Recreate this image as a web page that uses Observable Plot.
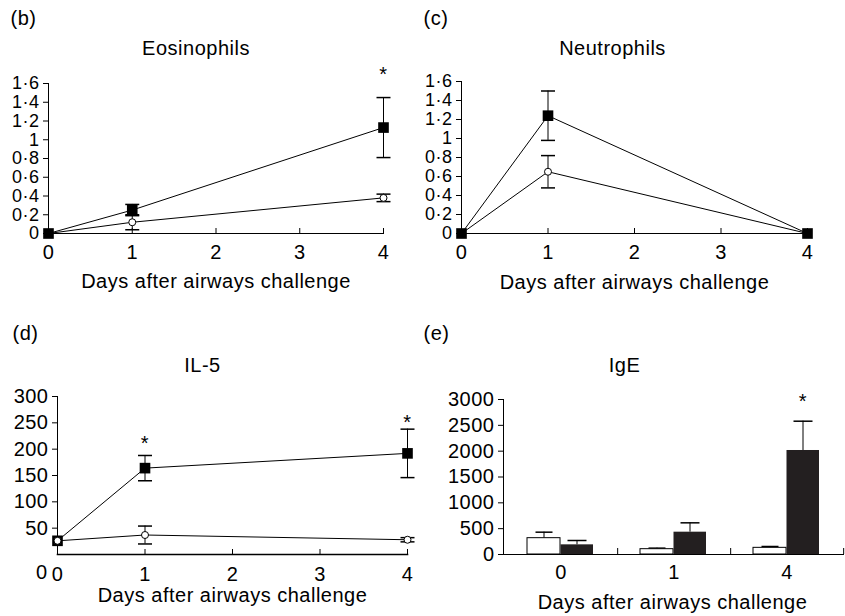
<!DOCTYPE html>
<html><head><meta charset="utf-8">
<script src="https://cdn.jsdelivr.net/npm/d3@7"></script>
<script src="https://cdn.jsdelivr.net/npm/@observablehq/plot@0.6"></script>
<style>
body{margin:0;background:#fff;}
#wrap{position:relative;width:845px;height:616px;overflow:hidden;background:#fff;}
.panel{position:absolute;}
</style></head><body><div id="wrap"></div>
<script>
// ---------- data ----------
const days = [0, 1, 4];
const xTicks = [0, 1, 2, 3, 4];
const fracTicks = [0, 0.2, 0.4, 0.6, 0.8, 1, 1.2, 1.4, 1.6];

// (b) Eosinophils
const eosOva = [0, 0.25, 1.13];
const eosOvaErr = [0, 0.06, 0.32];
const eosCtrl = [0, 0.12, 0.38];
const eosCtrlErr = [0, 0.08, 0.04];
const eosStarDays = [4];
const eosStarY = [1.76];

// (c) Neutrophils
const neuOva = [0, 1.24, 0];
const neuOvaErr = [0, 0.26, 0];
const neuCtrl = [0, 0.65, 0];
const neuCtrlErr = [0, 0.17, 0];
const neuStarDays = [];
const neuStarY = [];

// (d) IL-5
const il5Ticks = [50, 100, 150, 200, 250, 300];
const il5ZeroTick = [0];
const il5Ova = [26, 164, 192];
const il5OvaErr = [0, 24, 46];
const il5Ctrl = [26, 37, 28];
const il5CtrlErr = [0, 17, 4];
const il5StarDays = [1, 4];
const il5StarY = [222, 261];

// (e) IgE
const igeDays = ["0", "1", "4"];
const igeTicks = [0, 500, 1000, 1500, 2000, 2500, 3000];
const igeCtrl = [316, 103, 129];
const igeCtrlErr = [116, 20, 26];
const igeOva = [187, 432, 2013];
const igeOvaErr = [84, 181, 567];
const igeStarDays = ["4"];
const igeStarY = [3077];

const xTitle = "Days after airways challenge";

// ---------- helpers ----------
const STYLE = {fontFamily: "'Liberation Sans', Arial, Helvetica, sans-serif", fontSize: "20px", letterSpacing: "0.5px", background: "white", overflow: "visible", color: "black"};
const cap = {draw(ctx, size) { const w = Math.sqrt(size / Math.PI); ctx.moveTo(-w, 0); ctx.lineTo(w, 0); }};
const fmt = d => String(d).replace(".", "·");

function series(x, vals, errs) {
  return x.map((d, i) => ({day: d, v: vals[i], e: errs[i], lo: vals[i] - errs[i], hi: vals[i] + errs[i]}));
}

function errMarks(rows, both, opts = {}) {
  const r = rows.filter(d => d.e > 0);
  const {capR = 7, ...rest} = opts;
  const m = [
    Plot.ruleX(r, {x: "day", y1: both ? "lo" : "v", y2: "hi", stroke: "black", strokeWidth: 1, ...rest}),
    Plot.dot(r, {x: "day", y: "hi", symbol: cap, r: capR, stroke: "black", fill: "none", ...rest})
  ];
  if (both) m.push(Plot.dot(r, {x: "day", y: "lo", symbol: cap, r: capR, stroke: "black", fill: "none", ...rest}));
  return m;
}

function textLabels(c) {
  return [
    Plot.text([c.tag], {text: d => d, frameAnchor: "top-left", lineAnchor: "middle", textAnchor: "start", dx: c.tagDx, dy: c.tagDy}),
    Plot.text([c.title], {text: d => d, frameAnchor: "top", lineAnchor: "middle", dx: c.titleDx, dy: c.titleDy}),
    Plot.text([xTitle], {text: d => d, frameAnchor: "bottom", lineAnchor: "middle", dx: c.xtDx, dy: c.xtDy})
  ];
}

function linePanel(c) {
  const ova = series(days, c.ova, c.ovaErr);
  const ctrl = series(days, c.ctrl, c.ctrlErr);
  const fh = c.height - c.mt - c.mb;
  const circles = [
    Plot.line(ctrl, {x: "day", y: "v", stroke: "black", strokeWidth: 1}),
    ...errMarks(ctrl, true),
    Plot.dot(ctrl, {x: "day", y: "v", r: 3.5, fill: "white", stroke: "black", strokeWidth: 1})
  ];
  const squares = [
    Plot.line(ova, {x: "day", y: "v", stroke: "black", strokeWidth: 1}),
    ...errMarks(ova, true),
    Plot.dot(ova, {x: "day", y: "v", r: 6, symbol: "square", fill: "black"})
  ];
  const yAxisOpts = {tickSize: 5, tickPadding: 4, tickFormat: fmt, label: null};
  if (c.yFont) Object.assign(yAxisOpts, {fontSize: c.yFont});
  const marks = [
    Plot.frame({anchor: "left", stroke: "black"}),
    Plot.frame({anchor: "bottom", stroke: "black", strokeWidth: c.xAxisWidth || 1}),
    Plot.axisY(c.yTicks, yAxisOpts),
    Plot.axisX(xTicks, {tickSize: 0, tickPadding: c.xPad, label: null}),
    Plot.tickX(xTicks.filter(t => t > 0), {x: d => d, insetTop: fh - 5, stroke: "black"}),
    ...(c.circlesOnTop ? [...squares, ...circles] : [...circles, ...squares]),
    Plot.text(c.starY, {x: (d, i) => c.starDays[i], y: d => d, text: () => "*", dy: 6}),
    ...textLabels(c)
  ];
  if (c.extra) marks.push(...c.extra);
  return Plot.plot({
    width: c.width, height: c.height,
    marginTop: c.mt, marginRight: c.mr, marginBottom: c.mb, marginLeft: c.ml,
    x: {domain: [0, 4], label: null},
    y: {domain: c.yDomain, label: null},
    style: STYLE,
    marks
  });
}

function place(el, left, top) {
  const d = document.createElement("div");
  d.className = "panel";
  d.style.left = left + "px";
  d.style.top = top + "px";
  d.appendChild(el);
  document.getElementById("wrap").appendChild(d);
}

// (b)
place(linePanel({
  width: 420, height: 300, mt: 83, mr: 37, mb: 67, ml: 48,
  yDomain: [0, 1.6], yTicks: fracTicks, xPad: 11, yFont: 18,
  ova: eosOva, ovaErr: eosOvaErr, ctrl: eosCtrl, ctrlErr: eosCtrlErr,
  starDays: eosStarDays, starY: eosStarY,
  tag: "(b)", tagDx: -38, tagDy: -65,
  title: "Eosinophils", titleDx: -20, titleDy: -35,
  xtDx: 0, xtDy: 48
}), 0, 0);

// (c)
place(linePanel({
  width: 425, height: 300, mt: 81, mr: 38, mb: 67, ml: 41,
  yDomain: [0, 1.6], yTicks: fracTicks, xPad: 11, yFont: 18,
  ova: neuOva, ovaErr: neuOvaErr, ctrl: neuCtrl, ctrlErr: neuCtrlErr,
  starDays: neuStarDays, starY: neuStarY,
  tag: "(c)", tagDx: -38, tagDy: -63,
  title: "Neutrophils", titleDx: -22, titleDy: -33,
  xtDx: 0, xtDy: 49
}), 420, 0);

// (d)
place(linePanel({
  width: 420, height: 316, mt: 96, mr: 13, mb: 62, ml: 57,
  yDomain: [0, 300], yTicks: il5Ticks, xPad: 12, xAxisWidth: 1.6,
  ova: il5Ova, ovaErr: il5OvaErr, ctrl: il5Ctrl, ctrlErr: il5CtrlErr,
  starDays: il5StarDays, starY: il5StarY, circlesOnTop: true,
  tag: "(d)", tagDx: -45, tagDy: -63,
  title: "IL-5", titleDx: -30, titleDy: -31,
  xtDx: 0, xtDy: 41,
  extra: [Plot.axisY(il5ZeroTick, {tickSize: 0, tickPadding: 10, dy: 18, label: null})]
}), 0, 300);

// (e)
(function () {
  const width = 425, height = 316, mt = 99, mr = 2, mb = 62, ml = 83;
  const fh = height - mt - mb;
  const bw = (width - ml - mr) / igeDays.length;
  const ctrl = series(igeDays, igeCtrl, igeCtrlErr);
  const ova = series(igeDays, igeOva, igeOvaErr);
  const c = {
    tag: "(e)", tagDx: -80, tagDy: -66,
    title: "IgE", titleDx: -49, titleDy: -34,
    xtDx: -1, xtDy: 48
  };
  const chart = Plot.plot({
    width, height, marginTop: mt, marginRight: mr, marginBottom: mb, marginLeft: ml,
    x: {type: "band", domain: igeDays, padding: 0, label: null},
    y: {domain: [0, 3000], label: null},
    style: STYLE,
    marks: [
      Plot.axisY(igeTicks, {tickSize: 5, tickPadding: 4, tickFormat: d => String(d), label: null}),
      Plot.axisX(igeDays, {tickSize: 0, tickPadding: 10, label: null}),
      Plot.tickX(igeDays, {x: d => d, dx: bw / 2, insetTop: fh - 6, stroke: "black"}),
      ...errMarks(ctrl, false, {dx: -17, capR: 8.5}),
      ...errMarks(ova, false, {dx: 16, capR: 9.5}),
      Plot.barY(ctrl, {x: "day", y: "v", fill: "white", stroke: "black", strokeWidth: 1, insetLeft: 23, insetRight: 57}),
      Plot.barY(ova, {x: "day", y: "v", fill: "#231f20", insetLeft: 56.5, insetRight: 24}),
      Plot.frame({anchor: "left", stroke: "black"}),
      Plot.frame({anchor: "bottom", stroke: "black"}),
      Plot.text(igeStarY, {x: (d, i) => igeStarDays[i], y: d => d, text: () => "*", dx: 16, dy: 6}),
      ...textLabels(c)
    ]
  });
  place(chart, 420, 300);
})();
</script>
</body></html>
